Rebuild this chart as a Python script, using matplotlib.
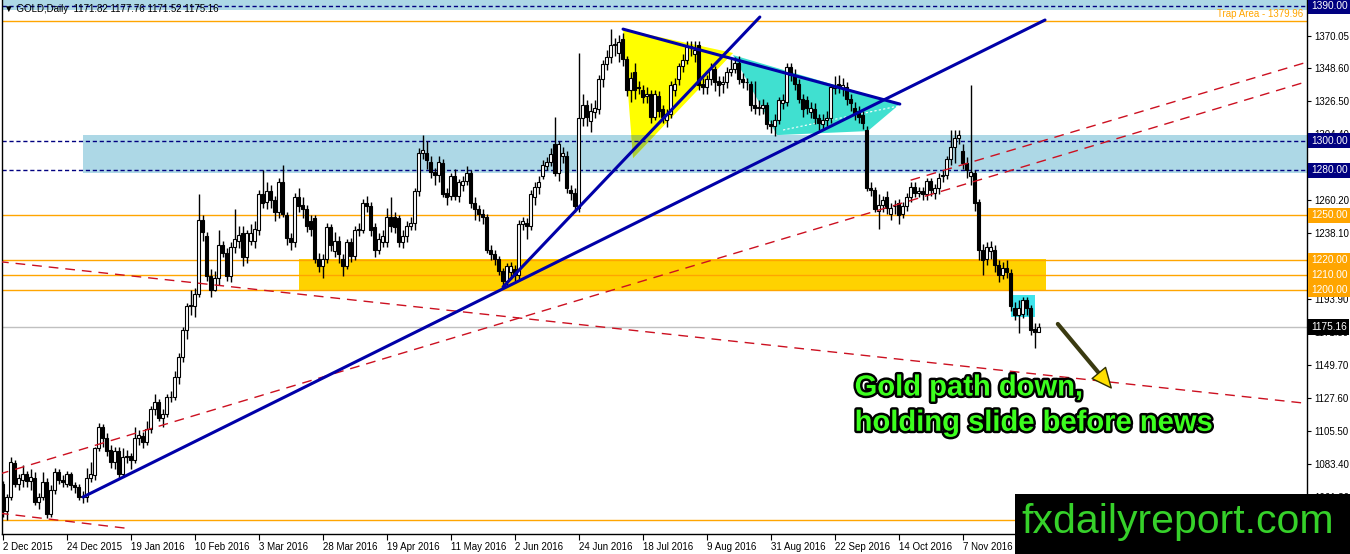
import numpy as np
import matplotlib.pyplot as plt
import matplotlib.transforms as mtransforms
import matplotlib.patheffects as pe
from matplotlib.patches import Polygon, Rectangle

# daily GOLD bars, 2 Dec 2015 .. 1 Dec 2016
opens = [1070, 1052, 1061, 1084, 1070, 1073, 1077, 1072, 1074, 1058,
         1061, 1071, 1050, 1066, 1078, 1073, 1070, 1077, 1069, 1068,
         1061, 1061, 1074, 1076, 1094, 1108, 1101, 1093, 1085, 1092,
         1077, 1088, 1089, 1086, 1101, 1102, 1098, 1107, 1120, 1125,
         1114, 1117, 1128, 1128, 1142, 1155, 1173, 1189, 1189, 1197,
         1247, 1236, 1209, 1200, 1208, 1230, 1225, 1209, 1229, 1233,
         1238, 1222, 1233, 1233, 1240, 1264, 1259, 1266, 1260, 1252,
         1272, 1250, 1235, 1232, 1262, 1257, 1254, 1246, 1248, 1221,
         1216, 1221, 1242, 1226, 1233, 1221, 1216, 1232, 1223, 1240,
         1240, 1258, 1256, 1242, 1227, 1232, 1232, 1249, 1249, 1248,
         1232, 1236, 1243, 1245, 1266, 1292, 1292, 1286, 1279, 1277,
         1285, 1265, 1263, 1276, 1263, 1270, 1273, 1278, 1258, 1254,
         1251, 1249, 1227, 1224, 1221, 1213, 1206, 1212, 1214, 1210,
         1244, 1245, 1243, 1262, 1269, 1276, 1283, 1286, 1298, 1278,
         1290, 1290, 1267, 1265, 1255, 1315, 1324, 1313, 1319, 1321,
         1341, 1351, 1356, 1364, 1359, 1368, 1355, 1334, 1346, 1336,
         1334, 1330, 1331, 1316, 1330, 1321, 1314, 1318, 1334, 1341,
         1350, 1354, 1363, 1358, 1364, 1338, 1336, 1341, 1348, 1340,
         1338, 1339, 1346, 1348, 1352, 1341, 1339, 1338, 1324, 1322,
         1322, 1324, 1311, 1310, 1314, 1325, 1326, 1349, 1344, 1338,
         1328, 1327, 1319, 1321, 1315, 1311, 1314, 1315, 1335, 1338,
         1335, 1336, 1328, 1322, 1320, 1317, 1307, 1268, 1267, 1253,
         1257, 1262, 1251, 1256, 1258, 1251, 1256, 1262, 1269, 1265,
         1266, 1264, 1273, 1265, 1268, 1276, 1277, 1288, 1296, 1302,
         1293, 1285, 1276, 1278, 1259, 1227, 1221, 1226, 1227, 1217,
         1210, 1215, 1211, 1188, 1183, 1184, 1193, 1188, 1174, 1171.82]
highs = [1072, 1063, 1088, 1086, 1077, 1083, 1079, 1080, 1078, 1064,
         1078, 1074, 1069, 1081, 1080, 1076, 1079, 1078, 1071, 1070,
         1065, 1081, 1085, 1095, 1111, 1110, 1104, 1096, 1095, 1095,
         1094, 1093, 1091, 1108, 1106, 1105, 1112, 1122, 1130, 1127,
         1120, 1130, 1132, 1146, 1158, 1175, 1191, 1200, 1201, 1264,
         1250, 1239, 1214, 1213, 1240, 1233, 1228, 1232, 1254, 1243,
         1243, 1240, 1244, 1246, 1267, 1280, 1272, 1270, 1263, 1275,
         1284, 1252, 1238, 1265, 1268, 1262, 1257, 1250, 1250, 1225,
         1224, 1245, 1244, 1239, 1236, 1224, 1234, 1235, 1243, 1245,
         1261, 1263, 1259, 1245, 1238, 1240, 1255, 1262, 1252, 1250,
         1240, 1246, 1249, 1268, 1295, 1304, 1300, 1290, 1282, 1290,
         1288, 1268, 1278, 1281, 1274, 1276, 1283, 1280, 1262, 1257,
         1254, 1251, 1230, 1227, 1223, 1215, 1218, 1219, 1217, 1247,
         1249, 1248, 1267, 1272, 1276, 1287, 1289, 1295, 1316, 1300,
         1296, 1293, 1270, 1268, 1359, 1331, 1327, 1325, 1327, 1344,
         1354, 1361, 1375, 1369, 1371, 1372, 1357, 1346, 1352, 1340,
         1337, 1336, 1334, 1334, 1333, 1324, 1321, 1340, 1342, 1352,
         1358, 1367, 1367, 1367, 1367, 1342, 1344, 1352, 1350, 1343,
         1343, 1349, 1355, 1356, 1357, 1345, 1342, 1340, 1340, 1327,
         1328, 1326, 1314, 1318, 1329, 1331, 1352, 1352, 1348, 1341,
         1331, 1330, 1326, 1325, 1318, 1318, 1320, 1338, 1343, 1344,
         1342, 1339, 1331, 1326, 1323, 1320, 1310, 1272, 1269, 1264,
         1263, 1266, 1258, 1260, 1261, 1259, 1265, 1272, 1272, 1269,
         1269, 1275, 1275, 1271, 1278, 1280, 1290, 1307, 1307, 1307,
         1298, 1289, 1337, 1280, 1261, 1231, 1232, 1233, 1230, 1220,
         1219, 1220, 1214, 1192, 1193, 1195, 1195, 1190, 1178, 1177.76]
lows = [1048, 1046, 1059, 1068, 1066, 1068, 1068, 1066, 1056, 1053,
        1059, 1047, 1048, 1063, 1070, 1068, 1068, 1066, 1064, 1059,
        1057, 1058, 1071, 1073, 1092, 1095, 1089, 1081, 1080, 1074,
        1075, 1084, 1080, 1084, 1096, 1094, 1096, 1104, 1116, 1112,
        1108, 1115, 1125, 1126, 1137, 1152, 1167, 1183, 1182, 1195,
        1233, 1206, 1195, 1199, 1203, 1222, 1206, 1205, 1225, 1228,
        1216, 1218, 1230, 1228, 1237, 1255, 1254, 1255, 1246, 1248,
        1249, 1230, 1227, 1229, 1252, 1248, 1239, 1236, 1218, 1212,
        1208, 1218, 1226, 1222, 1218, 1209, 1214, 1219, 1220, 1236,
        1238, 1252, 1236, 1222, 1224, 1229, 1229, 1239, 1238, 1229,
        1228, 1232, 1240, 1240, 1263, 1288, 1281, 1275, 1270, 1272,
        1262, 1257, 1260, 1260, 1259, 1266, 1270, 1255, 1247, 1246,
        1244, 1225, 1220, 1217, 1210, 1201, 1203, 1207, 1206, 1207,
        1240, 1234, 1240, 1257, 1264, 1274, 1280, 1283, 1276, 1273,
        1285, 1265, 1260, 1252, 1252, 1310, 1310, 1306, 1315, 1318,
        1336, 1347, 1352, 1357, 1353, 1350, 1330, 1326, 1328, 1331,
        1325, 1325, 1312, 1314, 1316, 1312, 1309, 1315, 1330, 1337,
        1346, 1351, 1357, 1353, 1334, 1331, 1331, 1337, 1333, 1330,
        1332, 1335, 1343, 1345, 1338, 1335, 1334, 1320, 1318, 1317,
        1318, 1308, 1305, 1303, 1311, 1321, 1323, 1340, 1334, 1325,
        1316, 1318, 1315, 1311, 1307, 1307, 1310, 1312, 1331, 1332,
        1330, 1324, 1320, 1314, 1312, 1308, 1266, 1263, 1252, 1241,
        1252, 1251, 1247, 1251, 1244, 1248, 1253, 1259, 1262, 1262,
        1260, 1260, 1263, 1261, 1264, 1272, 1274, 1284, 1285, 1298,
        1281, 1275, 1270, 1253, 1220, 1210, 1217, 1221, 1212, 1205,
        1207, 1208, 1186, 1180, 1171, 1181, 1183, 1170, 1161, 1171.52]
closes = [1052, 1061, 1085, 1070, 1074, 1077, 1072, 1075, 1058, 1061,
          1071, 1050, 1066, 1078, 1073, 1071, 1077, 1069, 1068, 1061,
          1062, 1074, 1077, 1094, 1108, 1101, 1092, 1085, 1092, 1077,
          1088, 1089, 1086, 1101, 1103, 1098, 1107, 1120, 1125, 1114,
          1117, 1128, 1128.5, 1142, 1155, 1173, 1189, 1190, 1197, 1247,
          1239, 1209, 1200, 1208, 1230, 1225, 1209, 1229, 1234, 1237,
          1222, 1238, 1238, 1241, 1264, 1258, 1266, 1260, 1252, 1272,
          1251, 1235, 1232, 1262, 1256, 1254, 1243, 1241, 1221, 1216,
          1221, 1242, 1230, 1233, 1224, 1216, 1232, 1223, 1240, 1241,
          1258, 1256, 1240, 1227, 1234, 1236, 1249, 1243, 1242, 1232,
          1236, 1243, 1245, 1266, 1292, 1294, 1287, 1279, 1277, 1286,
          1264, 1262, 1276, 1263, 1272, 1273, 1278, 1258, 1254, 1251,
          1249, 1227, 1224, 1221, 1213, 1206, 1216, 1216, 1210, 1244,
          1246, 1243, 1264, 1269, 1272, 1284, 1286, 1291, 1278, 1298,
          1292, 1268, 1265, 1256, 1315, 1324, 1316, 1320, 1322, 1341,
          1351, 1356, 1364, 1365, 1366, 1355, 1334, 1342, 1334, 1335,
          1329, 1331, 1316, 1331, 1320, 1316, 1318, 1337, 1338, 1350,
          1354, 1363, 1363.5, 1361, 1337, 1336, 1341, 1348, 1339, 1337,
          1339, 1346, 1348, 1352, 1341, 1339, 1339.5, 1324, 1322, 1322.5,
          1324, 1311, 1310, 1314, 1327, 1327, 1349, 1344, 1338, 1328,
          1321, 1322, 1322, 1315, 1312, 1314, 1315, 1336, 1336.5, 1336,
          1337, 1328, 1325, 1318, 1316, 1312, 1268, 1267, 1254, 1257,
          1260, 1255, 1255, 1256.5, 1250, 1256, 1262, 1269, 1265, 1266,
          1264, 1273, 1267, 1268, 1275, 1277, 1288, 1296, 1302, 1304,
          1285, 1280, 1279, 1258, 1227, 1220, 1229, 1229, 1217, 1210,
          1215, 1212, 1189, 1183, 1188, 1193, 1188, 1173, 1172, 1175.16]

date_ticks = list(range(0, 241, 16))
date_labels = ['2 Dec 2015', '24 Dec 2015', '19 Jan 2016', '10 Feb 2016', '3 Mar 2016',
               '28 Mar 2016', '19 Apr 2016', '11 May 2016', '2 Jun 2016', '24 Jun 2016',
               '18 Jul 2016', '9 Aug 2016', '31 Aug 2016', '22 Sep 2016', '14 Oct 2016',
               '7 Nov 2016']
price_ticks = [1370.05, 1348.60, 1326.50, 1304.40, 1260.20, 1238.10, 1216.00,
               1193.90, 1171.80, 1149.70, 1127.60, 1105.50, 1083.40, 1061.30]

# horizontal levels
orange_levels = [1379.96, 1250, 1220, 1210, 1200, 1046]
navy_levels = [1390, 1300, 1280]
bid = 1175.16

# zones (x0, x1, y0, y1)
top_zone = (-5, 330, 1387.6, 1400)
blue_zone = (20.1, 330, 1278.5, 1304)
gold_zone = (74.1, 260.8, 1199.3, 1220.7)
cyan_box = (252.1, 258.1, 1181.8, 1196.6)

# trend lines ((x0, y0), (x1, y1))
red_lines = [((-1, 1219), (326, 1124)),
             ((-1, 1050.5), (32, 1040)),
             ((-1, 1076.5), (326, 1339.5)),
             ((227, 1273.5), (326, 1352.5))]
blue_lines = [((125.1, 1202), (189.3, 1382.8)),
              ((20.1, 1061.3), (260.6, 1380.8)),
              ((155.1, 1374.7), (224.3, 1324.5))]
yellow_tri = [(155.1, 1374.7), (157.6, 1288.3), (182.6, 1358.7)]
cyan_poly = [(182.6, 1357.3), (224.3, 1324.5), (216.3, 1306.4), (193.6, 1303.7)]
arrow_tail = (263.8, 1177.2)
arrow_tip = (277.6, 1132.9)

fig = plt.figure(figsize=(13.5, 5.54), dpi=100)
ax = fig.add_axes([2 / 1350, 20 / 554, 1305 / 1350, 534 / 554])
ax.set_xlim(-0.175, 326.1)
ax.set_ylim(1036.5, 1394.2)

# zones
for z, c in [(top_zone, '#ADD8E6'), (blue_zone, '#ADD8E6'), (gold_zone, '#FFD200')]:
    ax.add_patch(Rectangle((z[0], z[2]), z[1] - z[0], z[3] - z[2], color=c, lw=0, zorder=0.5))
ax.add_patch(Rectangle((cyan_box[0], cyan_box[2]), cyan_box[1] - cyan_box[0],
                       cyan_box[3] - cyan_box[2], color='#3FE3EC', lw=0, zorder=0.6))

# triangles
ax.add_patch(Polygon(yellow_tri, closed=True, color='#FFFF00', lw=0, zorder=0.7))
overlap = Polygon(yellow_tri, closed=True, color='#A8CC3C', lw=0, zorder=0.75)
ax.add_patch(overlap)
clip = Rectangle((blue_zone[0], blue_zone[2]), blue_zone[1] - blue_zone[0],
                 blue_zone[3] - blue_zone[2], transform=ax.transData)
overlap.set_clip_path(clip)
ax.add_patch(Polygon(cyan_poly, closed=True, color='#40E0D0', lw=0, zorder=0.7))
ax.plot([195.1, 223.8], [1307.1, 1323.1], color='white', lw=0.8, ls=(0, (2, 2)), zorder=0.8)

# levels
for lv in orange_levels:
    ax.axhline(lv, color='#FFA500', lw=1, zorder=1)
for lv in navy_levels:
    ax.axhline(lv, color='#000080', lw=1, ls=(0, (3, 2)), zorder=1)
ax.axhline(bid, color='#C0C0C0', lw=1, zorder=1)

# candles
idx = np.arange(len(closes))
o = np.array(opens, float)
h = np.array(highs, float)
l = np.array(lows, float)
c = np.array(closes, float)
ax.vlines(idx, l, h, color='black', lw=1, zorder=2)
body_lo = np.minimum(o, c)
body_h = np.maximum(np.abs(c - o), 0.5)
fc = np.where(c >= o, 'white', 'black')
ax.bar(idx, body_h, bottom=body_lo, width=0.62, color=fc, edgecolor='black', lw=0.8, zorder=3)

# trend lines
for (x0, y0), (x1, y1) in red_lines:
    ax.plot([x0, x1], [y0, y1], color='#CC1020', lw=1, ls=(0, (7, 5)), zorder=4)
for (x0, y0), (x1, y1) in blue_lines:
    ax.plot([x0, x1], [y0, y1], color='#0000A8', lw=2.2, zorder=4, solid_capstyle='round')

# arrow: dark shaft, yellow head
ax.plot([arrow_tail[0], arrow_tip[0] - 2.2], [arrow_tail[1], arrow_tip[1] + 7.1],
        color='#3A3A10', lw=3, zorder=5, solid_capstyle='round')
ax.annotate('', xy=arrow_tip, xytext=(arrow_tip[0] - 3.5, arrow_tip[1] + 11.3),
            arrowprops=dict(arrowstyle='simple,head_length=1.0,head_width=0.9,tail_width=0.2',
                            fc='#FFE000', ec='#303000', lw=1, mutation_scale=14), zorder=5)

txt = ax.text(213, 1144, 'Gold path down,\nholding slide before news', color='#3CFF1E',
              fontsize=21, fontweight='bold', family='Liberation Sans', va='top', ha='left',
              linespacing=1.33, zorder=6)
txt.set_path_effects([pe.withStroke(linewidth=3.5, foreground='black')])

ax.text(325.1, 1381.2, 'Trap Area - 1379.96', color='#FFA500', fontsize=7,
        family='Liberation Sans', ha='right', va='bottom', zorder=6)

# axes styling
ax.spines['top'].set_visible(False)
for s in ['left', 'right', 'bottom']:
    ax.spines[s].set_linewidth(1)
ax.yaxis.tick_right()
ax.set_yticks(price_ticks)
ax.set_yticklabels(['%.2f' % p for p in price_ticks])
ax.tick_params(axis='y', length=3, pad=2, labelsize=7)
ax.set_xticks(date_ticks)
ax.set_xticklabels(date_labels, ha='left')
ax.tick_params(axis='x', length=4, pad=2, labelsize=7)
for t in ax.get_xticklabels() + ax.get_yticklabels():
    t.set_family('Liberation Sans')

# boxed price labels on the axis
bt = mtransforms.blended_transform_factory(ax.transAxes, ax.transData)
boxes = [(1390, '#000080'), (1300, '#000080'), (1280, '#000080'), (1250, '#FFA500'),
         (1220, '#FFA500'), (1210, '#FFA500'), (1200, '#FFA500'), (bid, 'black')]
for p, col in boxes:
    ax.text(1.003, p, '%.2f' % p, transform=bt, color='white', fontsize=7.3,
            family='Liberation Sans', ha='left', va='center', clip_on=False, zorder=10,
            bbox=dict(boxstyle='square,pad=0.25', fc=col, ec='none'))

fig.text(4 / 1350, 1 - 9 / 554, '\u25bc GOLD,Daily  1171.82 1177.76 1171.52 1175.16',
         fontsize=7, family=['Liberation Sans', 'DejaVu Sans'], va='center', ha='left')

# logo
fig.add_artist(Rectangle((1015 / 1350, 0), 335 / 1350, 60 / 554, transform=fig.transFigure,
                         color='black', lw=0, zorder=5))
fig.text(1178 / 1350, 1 - 522 / 554, 'fxdailyreport.com', color='#36D12A', fontsize=29.5,
         family='Liberation Sans', ha='center', va='center', zorder=6)

fig.savefig('out.png', dpi=100)
